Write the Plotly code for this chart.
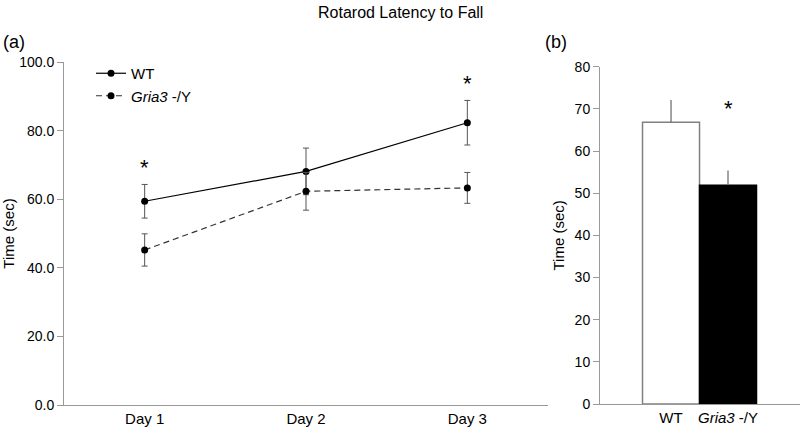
import plotly.graph_objects as go

days = ["Day 1", "Day 2", "Day 3"]
wt_mean = [59.4, 68.1, 82.3]
wt_err = [4.9, 6.8, 6.5]
ko_mean = [45.2, 62.3, 63.3]
ko_err = [4.7, 5.5, 4.5]

groups = ["WT", "<i>Gria3</i> -/Y"]
bar_mean = [66.8, 51.9]
bar_err = [5.3, 3.5]

left_ticks = [0, 20, 40, 60, 80, 100]
right_ticks = [0, 10, 20, 30, 40, 50, 60, 70, 80]

FONT = "Liberation Sans, Arial, sans-serif"
AX = "#999999"

W, H = 800, 435


def px(tx):
    return tx / W


def py(ty):
    return 1 - ty / H


fig = go.Figure()

fig.add_trace(go.Scatter(
    x=days, y=wt_mean, name="WT", mode="lines+markers",
    line=dict(color="black", width=1.2),
    marker=dict(color="black", size=7),
    error_y=dict(type="data", array=wt_err, color="#555555", thickness=1, width=3),
    xaxis="x", yaxis="y"))
fig.add_trace(go.Scatter(
    x=days, y=ko_mean, name="<i>Gria3</i> -/Y", mode="lines+markers",
    line=dict(color="#333333", width=1.2, dash="6px,4px"),
    marker=dict(color="black", size=7),
    error_y=dict(type="data", array=ko_err, color="#555555", thickness=1, width=3),
    xaxis="x", yaxis="y"))

fig.add_trace(go.Bar(
    x=[0, 1], y=bar_mean, width=[1, 1],
    marker=dict(color=["white", "black"], line=dict(color=["#808080", "black"], width=1.5)),
    error_y=dict(type="data", array=bar_err, symmetric=False, arrayminus=[0, 0],
                 color="#666666", thickness=1.2, width=0),
    showlegend=False, xaxis="x2", yaxis="y2"))

fig.update_layout(
    width=W, height=H,
    margin=dict(l=0, r=0, t=0, b=0, autoexpand=False),
    paper_bgcolor="white", plot_bgcolor="white",
    font=dict(family=FONT, size=13, color="black"),
    showlegend=True,
    legend=dict(x=px(91), y=py(57), xanchor="left", yanchor="top",
                bgcolor="rgba(0,0,0,0)", font=dict(size=15, family=FONT),
                tracegroupgap=0, itemwidth=30),
    xaxis=dict(domain=[px(64), px(548)], type="category", range=[-0.5, 2.5],
               showline=True, linecolor=AX, linewidth=1, showgrid=False,
               ticks="", tickfont=dict(size=15), anchor="y", fixedrange=True,
               automargin=False),
    yaxis=dict(domain=[py(405), py(62)], range=[0, 100], tickvals=left_ticks,
               tickformat=".1f", showline=True, linecolor=AX, linewidth=1,
               showgrid=False, zeroline=False, ticks="outside", ticklen=6,
               tickcolor=AX, tickfont=dict(size=14), anchor="x", automargin=False,
               title=dict(text="Time (sec)", font=dict(size=15), standoff=8)),
    xaxis2=dict(domain=[px(600), 1.0], range=[-1.246, 2.263],
                tickvals=[0, 1], ticktext=groups,
                showline=True, linecolor=AX, linewidth=1, showgrid=False,
                zeroline=False, ticks="", tickfont=dict(size=15), anchor="y2",
                automargin=False),
    yaxis2=dict(domain=[py(404), py(66.7)], range=[0, 80], tickvals=right_ticks,
                showline=True, linecolor=AX, linewidth=1, showgrid=False,
                zeroline=False, ticks="outside", ticklen=6, tickcolor=AX,
                tickfont=dict(size=14), anchor="x2", automargin=False,
                title=dict(text="Time (sec)", font=dict(size=15), standoff=6)),
    annotations=[
        dict(text="Rotarod Latency to Fall", x=px(400), y=py(13), xref="paper",
             yref="paper", yanchor="middle", showarrow=False,
             font=dict(size=16, family=FONT)),
        dict(text="(a)", x=px(14), y=py(42), xref="paper", yref="paper",
             xanchor="center", yanchor="middle",
             showarrow=False, font=dict(size=18, family=FONT)),
        dict(text="(b)", x=px(556), y=py(42), xref="paper", yref="paper",
             xanchor="center", yanchor="middle",
             showarrow=False, font=dict(size=18, family=FONT)),
        dict(text="*", x="Day 1", y=wt_mean[0] + wt_err[0] + 5, xref="x", yref="y",
             showarrow=False, font=dict(size=22), yanchor="middle"),
        dict(text="*", x="Day 3", y=wt_mean[2] + wt_err[2] + 5, xref="x", yref="y",
             showarrow=False, font=dict(size=22), yanchor="middle"),
        dict(text="*", x=1, y=bar_mean[0] + bar_err[0] - 2, xref="x2", yref="y2",
             showarrow=False, font=dict(size=22), yanchor="middle"),
    ],
)

fig.write_html(
    "out.html",
    config={"displayModeBar": False},
    post_script="document.body.style.margin='0';document.body.style.padding='0';",
)
